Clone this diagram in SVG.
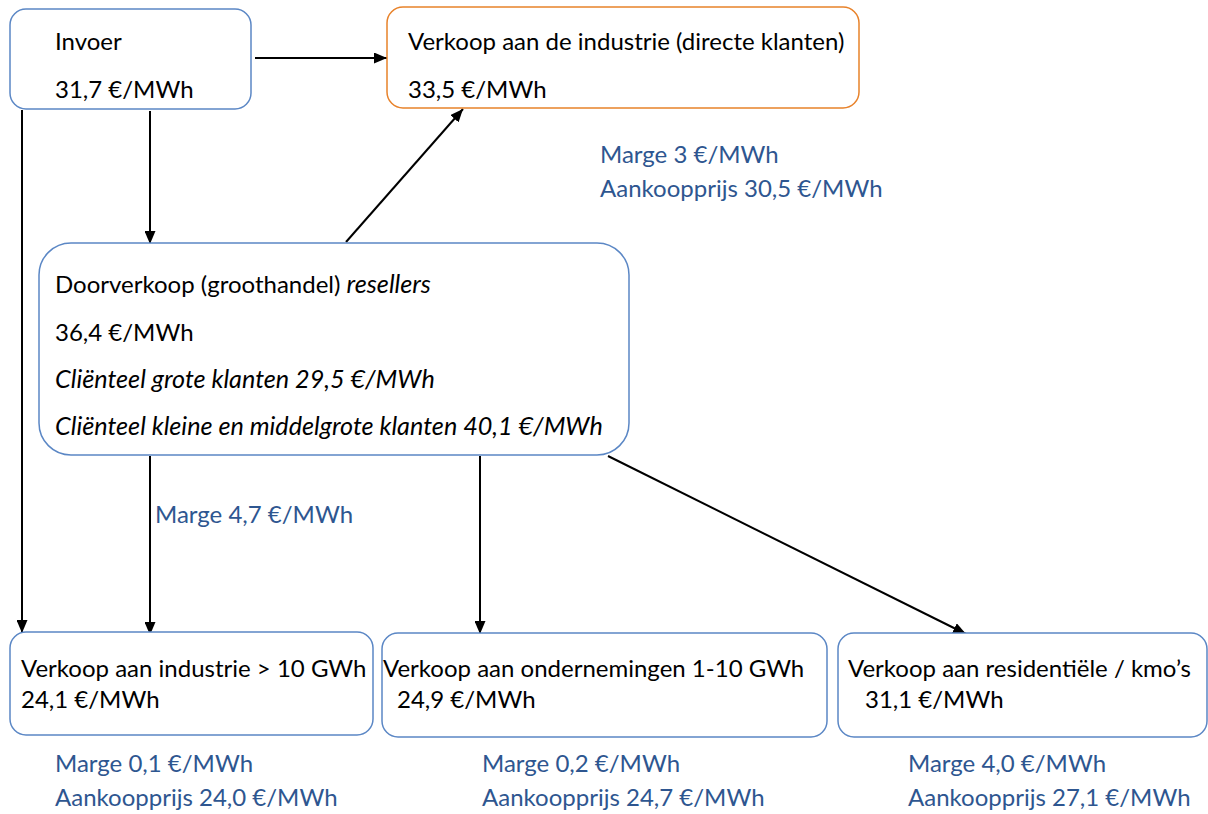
<svg xmlns="http://www.w3.org/2000/svg" width="1208" height="814" viewBox="0 0 1208 814">
<style>
.box{fill:#fff;stroke:#5B87C5;stroke-width:1.5}
.obox{fill:#fff;stroke:#E8822A;stroke-width:1.5}
text{font-family:Lato,"Liberation Sans",sans-serif;font-size:24px;fill:#000}
.b{fill:#2E5690}
.i{font-style:italic;font-size:25.2px}
.c{stroke:#000;stroke-width:2;fill:none;marker-end:url(#ah)}
</style>
<defs>
<marker id="ah" markerWidth="13" markerHeight="11" refX="13" refY="5.5" orient="auto" markerUnits="userSpaceOnUse" viewBox="0 0 13 11">
<path d="M0,0 L13,5.5 L0,11 z" fill="#000"/>
</marker>
</defs>
<g id="connectors">
<line class="c" x1="255" y1="58" x2="387" y2="58"/>
<line class="c" x1="150" y1="111" x2="150" y2="244"/>
<line class="c" x1="346" y1="242" x2="463" y2="109"/>
<line class="c" x1="22" y1="110" x2="22" y2="633"/>
<line class="c" x1="150" y1="456" x2="150" y2="635"/>
<line class="c" x1="480" y1="456" x2="480" y2="634"/>
<line class="c" x1="608" y1="456" x2="966" y2="634"/>
</g>
<g id="invoer">
<rect class="box" x="10" y="9" width="241" height="100" rx="16"/>
<text x="55" y="50">Invoer</text>
<text x="55" y="98">31,7 €/MWh</text>
</g>
<g id="industrie-direct">
<rect class="obox" x="387" y="7" width="472" height="101" rx="16"/>
<text x="408" y="50">Verkoop aan de industrie (directe klanten)</text>
<text x="408" y="98">33,5 €/MWh</text>
</g>
<g id="marge-direct">
<text class="b" x="600" y="163">Marge 3 €/MWh</text>
<text class="b" x="600" y="197">Aankoopprijs 30,5 €/MWh</text>
</g>
<g id="doorverkoop">
<rect class="box" x="39" y="243" width="590" height="212" rx="32"/>
<text x="55" y="293">Doorverkoop (groothandel) <tspan class="i">resellers</tspan></text>
<text x="55" y="341">36,4 €/MWh</text>
<text class="i" x="55" y="388">Cliënteel grote klanten 29,5 €/MWh</text>
<text class="i" x="55" y="435">Cliënteel kleine en middelgrote klanten 40,1 €/MWh</text>
</g>
<g id="marge-doorverkoop">
<text class="b" x="155" y="523">Marge 4,7 €/MWh</text>
</g>
<g id="industrie-10">
<rect class="box" x="10" y="632" width="363" height="103" rx="16"/>
<text x="21" y="677">Verkoop aan industrie &gt; 10 GWh</text>
<text x="21" y="708">24,1 €/MWh</text>
<text class="b" x="55" y="772">Marge 0,1 €/MWh</text>
<text class="b" x="55" y="806">Aankoopprijs 24,0 €/MWh</text>
</g>
<g id="ondernemingen">
<rect class="box" x="382" y="633" width="445" height="104" rx="16"/>
<text x="383" y="677">Verkoop aan ondernemingen 1-10 GWh</text>
<text x="397" y="708">24,9 €/MWh</text>
<text class="b" x="482" y="772">Marge 0,2 €/MWh</text>
<text class="b" x="482" y="806">Aankoopprijs 24,7 €/MWh</text>
</g>
<g id="residentieel">
<rect class="box" x="838" y="633" width="369" height="104" rx="16"/>
<text x="848" y="677">Verkoop aan residentiële / kmo’s</text>
<text x="865" y="708">31,1 €/MWh</text>
<text class="b" x="908" y="772">Marge 4,0 €/MWh</text>
<text class="b" x="908" y="806">Aankoopprijs 27,1 €/MWh</text>
</g>
</svg>
